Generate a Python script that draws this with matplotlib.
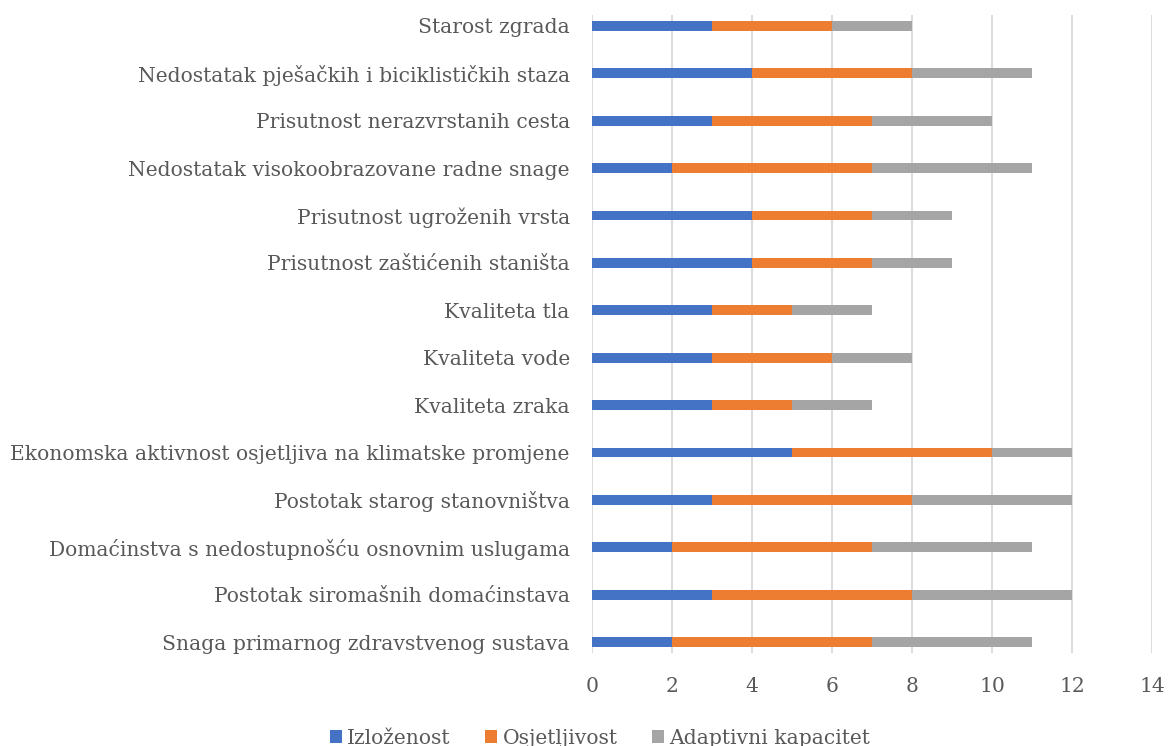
import matplotlib
matplotlib.use("Agg")
import matplotlib.pyplot as plt
import numpy as np

categories = [
    "Starost zgrada",
    "Nedostatak pješačkih i biciklističkih staza",
    "Prisutnost nerazvrstanih cesta",
    "Nedostatak visokoobrazovane radne snage",
    "Prisutnost ugroženih vrsta",
    "Prisutnost zaštićenih staništa",
    "Kvaliteta tla",
    "Kvaliteta vode",
    "Kvaliteta zraka",
    "Ekonomska aktivnost osjetljiva na klimatske promjene",
    "Postotak starog stanovništva",
    "Domaćinstva s nedostupnošću osnovnim uslugama",
    "Postotak siromašnih domaćinstava",
    "Snaga primarnog zdravstvenog sustava",
]
izlozenost = [3, 4, 3, 2, 4, 4, 3, 3, 3, 5, 3, 2, 3, 2]
osjetljivost = [3, 4, 4, 5, 3, 3, 2, 3, 2, 5, 5, 5, 5, 5]
adaptivni = [2, 3, 3, 4, 2, 2, 2, 2, 2, 2, 4, 4, 4, 4]
series_names = ["Izloženost", "Osjetljivost", "Adaptivni kapacitet"]
xticks = [0, 2, 4, 6, 8, 10, 12, 14]

colors = ["#4472C4", "#ED7D31", "#A5A5A5"]
txt = "#595959"
font = "DejaVu Serif"
fs = 14.6

fig = plt.figure(figsize=(11.7, 7.46), dpi=100)
ax = fig.add_axes([592/1170, 1-653/746, (1152-592)/1170, (653-15)/746])

y = np.arange(len(categories))
h = 0.21
left = np.zeros(len(categories))
for vals, name, c in zip([izlozenost, osjetljivost, adaptivni], series_names, colors):
    ax.barh(y, vals, left=left, height=h, color=c, label=name, zorder=3)
    left = left + np.array(vals)

ax.set_ylim(len(categories) - 1 + 0.23, -0.23)
ax.set_xlim(0, 14)
ax.set_xticks(xticks)
ax.set_xticklabels([str(t) for t in xticks], fontsize=fs, color=txt, family=font)
ax.set_yticks(y)
ax.set_yticklabels(categories, fontsize=fs, color=txt, family=font)
ax.tick_params(axis="both", length=0)
ax.tick_params(axis="x", pad=17)
ax.tick_params(axis="y", pad=16)
ax.xaxis.grid(True, color="#D9D9D9", linewidth=1.3, zorder=0)
for s in ax.spines.values():
    s.set_visible(False)

leg = fig.legend(loc="center", bbox_to_anchor=(600/1170, 1-738/746), ncol=3, frameon=False,
                 prop={"family": font, "size": fs}, handlelength=0.6, handleheight=0.6,
                 handletextpad=0.25, columnspacing=1.7)
for t in leg.get_texts():
    t.set_color(txt)

fig.savefig("out.png", dpi=100)
